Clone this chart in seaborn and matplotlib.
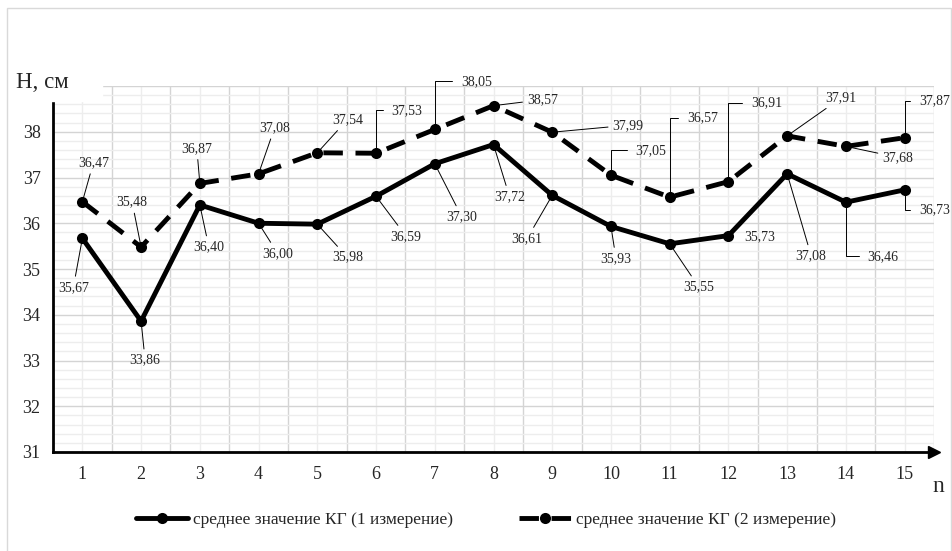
import numpy as np
import matplotlib
matplotlib.use("Agg")
import matplotlib.pyplot as plt
from matplotlib.patches import Rectangle
from matplotlib.ticker import MultipleLocator
import seaborn as sns

# data
n = list(range(1, 16))
kg1 = [35.67, 33.86, 36.40, 36.00, 35.98, 36.59, 37.30, 37.72, 36.61, 35.93, 35.55, 35.73, 37.08, 36.46, 36.73]
kg2 = [36.47, 35.48, 36.87, 37.08, 37.54, 37.53, 38.05, 38.57, 37.99, 37.05, 36.57, 36.91, 37.91, 37.68, 37.87]
label1 = "среднее значение КГ (1 измерение)"
label2 = "среднее значение КГ (2 измерение)"
y_ticks = [31, 32, 33, 34, 35, 36, 37, 38, 39]

# value label placement (pixel offsets from point) and leader type:
# s = straight, e = elbow, n = none
off1 = [(-9, -49), (4, -39), (9, -42), (19, -30), (30, -33), (30, -40), (27, -53), (16, -52),
        (-25, -43), (5, -32), (29, -43), (31, -1), (24, -82), (37, -54), (30, -20)]
kind1 = "sssssssssssnsee"
off2 = [(11, 39), (-9, 45), (-3, 35), (16, 46), (30, 33), (31, 43), (42, 48), (49, 6),
        (76, 7), (40, 25), (33, 79), (38, 79), (54, 38), (52, -11), (30, 37)]
kind2 = "ssssseesseeesse"

sns.set_style("white")
plt.rcParams['font.family'] = ['Liberation Serif', 'DejaVu Serif']

fig = plt.figure(figsize=(9.52, 5.51), dpi=100)
ax = fig.add_axes([53/952, 1-452/551, (934-53)/952, (452-86)/551])

sns.lineplot(x=n, y=kg1, ax=ax, color='black', lw=3.5, marker='o', markersize=8,
             mec='black', mew=0, label=label1, zorder=3)
sns.lineplot(x=n, y=kg2, ax=ax, color='black', lw=3.5, linestyle=(0, (4, 2.6)),
             dash_capstyle='butt', marker='o', markersize=8, mec='black', mew=0,
             label=label2, zorder=3)

for vals, offs, kinds in [(kg1, off1, kind1), (kg2, off2, kind2)]:
    for x, v, (dx, dy), k in zip(n, vals, offs, kinds):
        props = None
        if k == 's':
            props = dict(arrowstyle='-', color='black', lw=0.7, shrinkA=1, shrinkB=0)
        elif k == 'e':
            props = dict(arrowstyle='-', color='black', lw=0.7, shrinkA=4, shrinkB=0,
                         connectionstyle='angle,angleA=0,angleB=90,rad=0', relpos=(0, 0.5))
        ax.annotate(f"{v:.2f}".replace('.', ','), xy=(x, v), xytext=(dx, dy),
                    textcoords='offset pixels', ha='center', va='center',
                    fontsize=10, arrowprops=props, zorder=5)

ax.set_xlim(0.5, 15.5)
ax.set_ylim(31, 39)
ax.set_xticks(n)
ax.set_xticks(np.arange(0.5, 16, 1), minor=True)
ax.set_yticks(y_ticks)
ax.set_yticklabels([str(t) for t in y_ticks[:-1]] + [''])
ax.yaxis.set_minor_locator(MultipleLocator(0.2))
ax.tick_params(which='both', length=0)
ax.tick_params(axis='x', labelsize=13, pad=10)
ax.tick_params(axis='y', labelsize=13, pad=9)
ax.grid(which='minor', axis='x', color='#d4d4d4', lw=1)
ax.grid(which='major', axis='x', color='#ededed', lw=1)
ax.grid(which='major', axis='y', color='#d4d4d4', lw=1)
ax.grid(which='minor', axis='y', color='#ededed', lw=1)
ax.set_axisbelow(True)
for s in ['top', 'right']:
    ax.spines[s].set_visible(False)
for s in ['left', 'bottom']:
    ax.spines[s].set_color('black')
    ax.spines[s].set_linewidth(2)
ax.plot(1, 0, '>', transform=ax.transAxes, clip_on=False, color='black', ms=9, zorder=6)

handles, labels = ax.get_legend_handles_labels()
ax.get_legend().remove()
fig.legend(handles, labels, loc='center', bbox_to_anchor=(486/952, 1-520/551), ncol=2,
           frameon=False, handlelength=3.0, handletextpad=0.3, columnspacing=3.8,
           prop={'size': 12.5})

# white box behind the axis title, and light page border
fig.add_artist(Rectangle((10/952, 1-101/551), 92/952, 46/551, transform=fig.transFigure,
                         color='white', zorder=3))
fig.add_artist(Rectangle((7/952, -0.01), 944/952, 1.01-8/551, transform=fig.transFigure,
                         fill=False, ec='#d9d9d9', lw=1, zorder=3))
fig.text(16/952, 1-82/551, "H, см", fontsize=16.5, ha='left', va='center', zorder=4)
fig.text(938/952, 1-487/551, "n", fontsize=17, ha='center', va='center')

fig.savefig("out.png", dpi=100)
